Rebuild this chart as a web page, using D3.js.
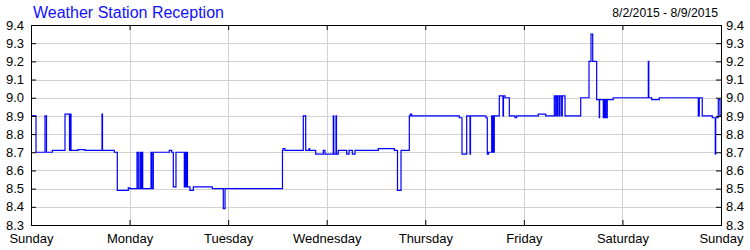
<!DOCTYPE html>
<html>
<head>
<meta charset="utf-8">
<script src="https://cdn.jsdelivr.net/npm/d3@7"></script>
<style>
  body { margin: 0; background: #fff; }
  svg text { font-family: "Liberation Sans", Arial, sans-serif; }
</style>
</head>
<body>
<svg class="chart" width="750" height="250"></svg>
<script>
// day labels along the bottom (one every 24 hours)
const dayLabels = ['Sunday', 'Monday', 'Tuesday', 'Wednesday', 'Thursday', 'Friday', 'Saturday', 'Sunday'];
const yTicks = [8.3, 8.4, 8.5, 8.6, 8.7, 8.8, 8.9, 9.0, 9.1, 9.2, 9.3, 9.4];

// hours since Sunday 00:00 where the reading changes
const hours = [
  0, 1.22, 3.41, 3.77, 5.19, 8.28, 9.37, 9.54, 9.74, 11.44, 13.15, 17.29, 17.41,
  20.28, 21.01, 23.69, 24.03, 25.81, 26.13, 26.54, 26.68, 26.95, 27.2, 29.22, 29.46,
  29.78, 33.67, 34.26, 34.65, 35.3, 37.33, 37.5, 37.74, 37.86, 38.1, 38.71, 39.52,
  44.14, 46.82, 47.24, 61.23, 61.36, 61.84, 66.3, 66.88, 67.69, 67.86, 69.32, 71.17,
  71.58, 73.6, 73.73, 74.26, 74.38, 74.82, 76.87, 77.43, 78.23, 78.89, 84.56, 88.46,
  89.23, 90.09, 92.11, 92.35, 92.69, 104.28, 104.94, 106.08, 106.89, 107.01, 110.78,
  111.1, 111.39, 112.17, 112.32, 112.49, 112.61, 112.8, 114.02, 114.92, 115.04, 115.41,
  116.46, 117.84, 118.26, 123.51, 125.32, 127.41, 127.75, 127.83, 128.14, 128.31,
  128.68, 128.8, 129.21, 129.36, 130.02, 133.84, 135.86, 136.35, 136.76, 137.73,
  138.37, 138.44, 139.34, 139.51, 139.68, 139.83, 140, 140.31, 141.77, 150.3, 150.42,
  151.12, 152.97, 162.47, 162.71, 163.44, 165.88, 166.61, 166.71, 167.34, 167.76, 168
];
const readings = [
  8.90, 8.70, 8.90, 8.70, 8.71, 8.91, 8.71, 8.91, 8.71, 8.715, 8.71, 8.91, 8.71,
  8.70, 8.49, 8.505, 8.50, 8.70, 8.50, 8.70, 8.50, 8.70, 8.50, 8.70, 8.50,
  8.70, 8.71, 8.70, 8.51, 8.70, 8.51, 8.70, 8.51, 8.70, 8.51, 8.49, 8.51,
  8.50, 8.39, 8.50, 8.71, 8.72, 8.71, 8.90, 8.71, 8.72, 8.71, 8.69, 8.71,
  8.69, 8.90, 8.69, 8.90, 8.69, 8.71, 8.69, 8.71, 8.69, 8.71, 8.72, 8.71,
  8.49, 8.71, 8.90, 8.91, 8.90, 8.89, 8.69, 8.90, 8.69, 8.90, 8.89,
  8.69, 8.70, 8.90, 8.70, 8.90, 8.70, 8.90, 9.01, 8.90, 9.01, 9.00,
  8.90, 8.89, 8.90, 8.91, 8.90, 9.01, 8.90, 9.01, 8.90, 9.01,
  8.90, 9.01, 8.90, 9.01, 8.90, 9.00, 9.20, 9.35, 9.20, 8.99,
  8.89, 8.99, 8.89, 8.99, 8.89, 8.99, 8.89, 8.99, 9.00, 9.20, 9.00,
  8.99, 9.00, 8.90, 9.00, 8.90, 8.89, 8.69, 8.89, 8.99, 8.90, 8.90
];

const data = hours.map((h, i) => ({ h: h, v: readings[i] }));

const svg = d3.select('.chart');
const margin = { top: 25, right: 29, bottom: 25, left: 31 };
const width = 750 - margin.left - margin.right;
const height = 250 - margin.top - margin.bottom;

const xScale = d3.scaleLinear().domain([0, 168]).range([0, width]);
const yScale = d3.scaleLinear().domain([8.3, 9.4]).range([height, 0]);
const dayTicks = dayLabels.map((d, i) => i * 24);

const g = svg.append('g')
  .attr('transform', `translate(${margin.left}, ${margin.top})`);

/*
 ** Grid
 */
g.append('g')
  .selectAll('line.hgrid')
  .data(yTicks)
  .enter()
  .append('line')
  .attr('x1', 0)
  .attr('x2', width)
  .attr('y1', d => Math.round(yScale(d)) + 0.5)
  .attr('y2', d => Math.round(yScale(d)) + 0.5)
  .attr('stroke', '#d0d0d0');

g.append('g')
  .selectAll('line.vgrid')
  .data(dayTicks)
  .enter()
  .append('line')
  .attr('y1', 0)
  .attr('y2', height)
  .attr('x1', d => Math.round(xScale(d)) + 0.5)
  .attr('x2', d => Math.round(xScale(d)) + 0.5)
  .attr('stroke', '#d0d0d0');

/*
 ** Line
 */
const line = d3.line()
  .x(d => xScale(d.h))
  .y(d => yScale(d.v))
  .curve(d3.curveStepAfter);

g.append('path')
  .datum(data)
  .attr('fill', 'none')
  .attr('stroke', '#0000ff')
  .attr('stroke-width', 1.2)
  .attr('d', line);

/*
 ** Axes
 */
const fmtY = d3.format('.1f');

const styleAxis = sel => {
  sel.select('.domain').remove();
  sel.selectAll('.tick line').attr('stroke', '#000');
  sel.selectAll('.tick text')
    .attr('fill', '#000')
    .style('font-size', '13px');
};

g.append('g')
  .call(d3.axisLeft(yScale).tickValues(yTicks).tickFormat(fmtY).tickSize(-5).tickPadding(7))
  .call(styleAxis);

g.append('g')
  .attr('transform', `translate(${width}, 0)`)
  .call(d3.axisRight(yScale).tickValues(yTicks).tickFormat(fmtY).tickSize(-5).tickPadding(5))
  .call(styleAxis);

g.append('g')
  .attr('transform', `translate(0, ${height})`)
  .call(d3.axisBottom(xScale).tickValues(dayTicks).tickFormat((d, i) => dayLabels[i]).tickSize(-5).tickPadding(9))
  .call(styleAxis);

g.append('g')
  .call(d3.axisTop(xScale).tickValues(dayTicks).tickFormat('').tickSize(-5))
  .call(styleAxis);

g.append('rect')
  .attr('x', 0.5)
  .attr('y', 0.5)
  .attr('width', width)
  .attr('height', height)
  .attr('fill', 'none')
  .attr('stroke', '#000');

/*
 ** Titles
 */
svg.append('text')
  .attr('x', 33)
  .attr('y', 18)
  .attr('fill', '#1010ff')
  .style('font-size', '16px')
  .text('Weather Station Reception');

svg.append('text')
  .attr('x', 718)
  .attr('y', 17)
  .attr('text-anchor', 'end')
  .attr('fill', '#000')
  .style('font-size', '12.2px')
  .text('8/2/2015 - 8/9/2015');
</script>
</body>
</html>
